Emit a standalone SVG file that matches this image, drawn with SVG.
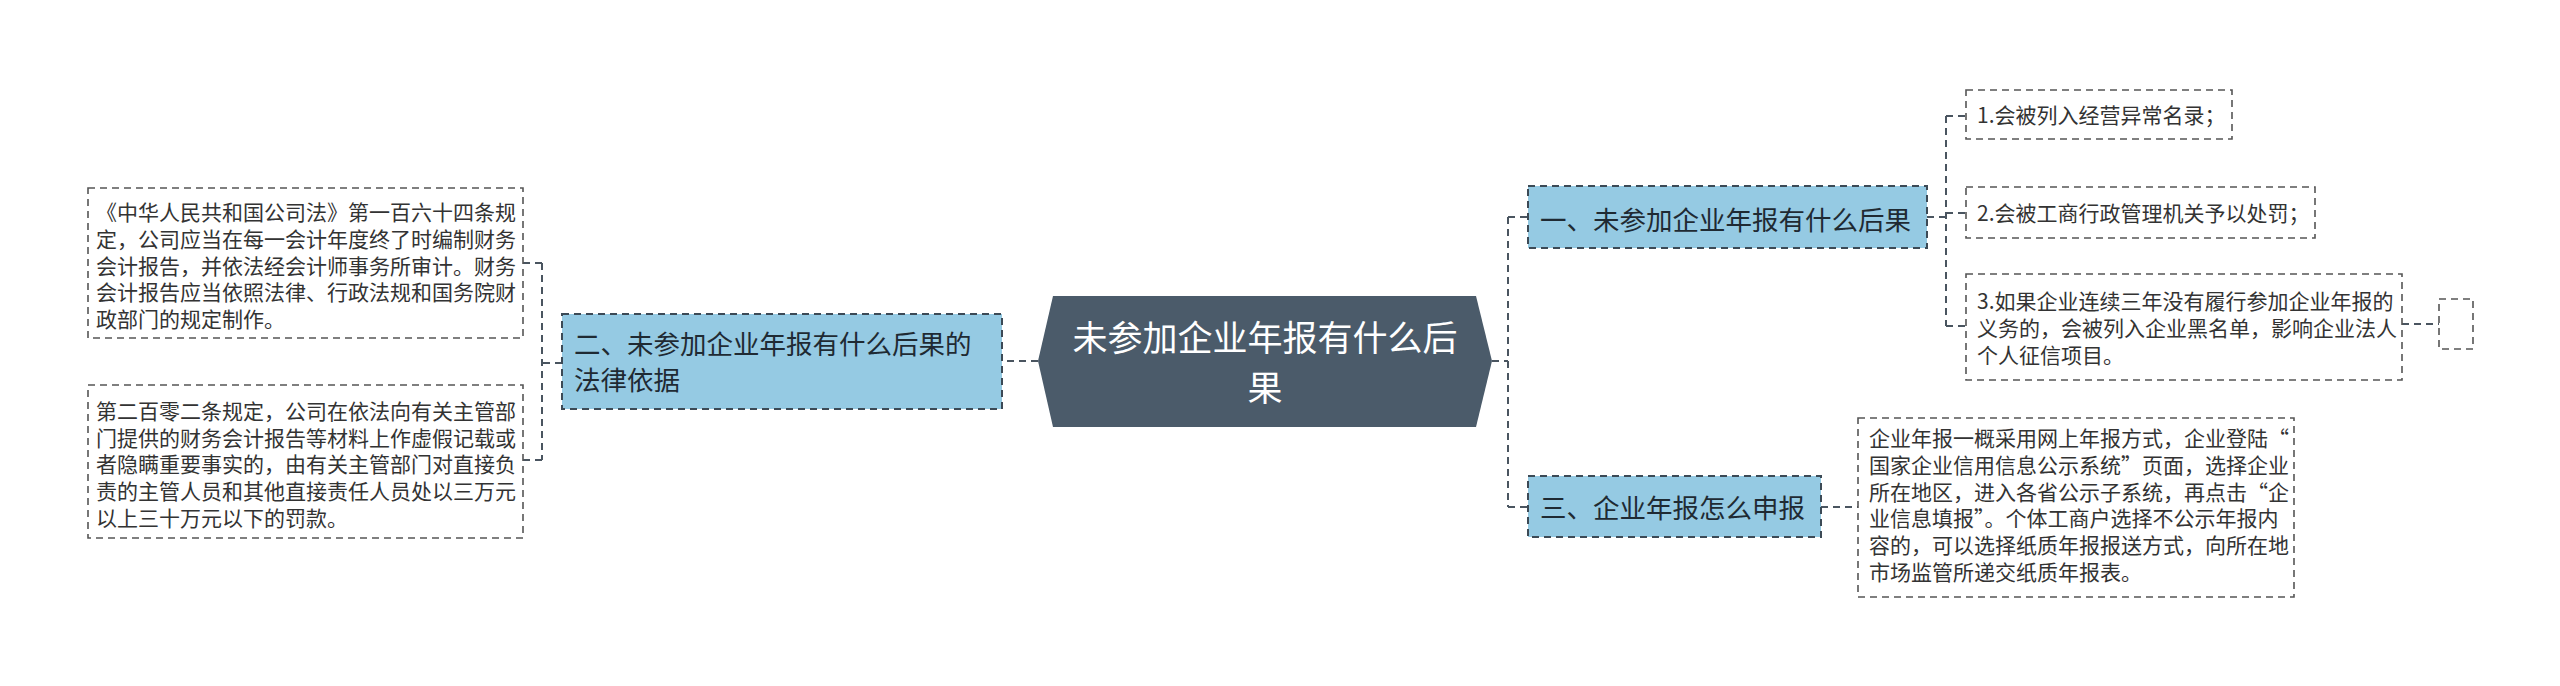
<svg xmlns="http://www.w3.org/2000/svg" width="2560" height="686" viewBox="0 0 2560 686">
<style>
text{font-family:"Microsoft YaHei","Noto Sans CJK SC","Noto Sans",sans-serif;}
.conn{fill:none;stroke:#4a5560;stroke-width:2;stroke-dasharray:7 5;}
.topic{fill:#95cae3;stroke:#3c4a56;stroke-width:2;stroke-dasharray:7 5;}
.leaf{fill:#ffffff;stroke:#555555;stroke-width:1.6;stroke-dasharray:7 5;}
.t1{font-size:26.5px;fill:#1f2a33;}
.t2{font-size:21px;fill:#333333;}
.tc{font-size:35px;fill:#ffffff;text-anchor:middle;}
</style>
<rect width="2560" height="686" fill="#ffffff"/>
<g id="connectors">
<path class="conn" d="M1038,361 H1002"/>
<path class="conn" d="M562,363 H542 M542,263 V460 M542,263 H523 M542,460 H523"/>
<path class="conn" d="M1492,361 H1508 M1508,217 V507 M1508,217 H1528 M1508,507 H1528"/>
<path class="conn" d="M1927,217 H1946 M1946,116 V326 M1946,116 H1966 M1946,213 H1966 M1946,326 H1966"/>
<path class="conn" d="M1821,507 H1858"/>
<path class="conn" d="M2402,324 H2439"/>
</g>
<g id="center">
<polygon points="1038,361 1053,296 1476,296 1492,361 1476,427 1053,427" fill="#4b5b6a"/>
<text class="tc" x="1265" y="351">未参加企业年报有什么后</text>
<text class="tc" x="1265" y="401">果</text>
</g>
<g id="node-legal">
<rect class="topic" x="562" y="314" width="440" height="95"/>
<text class="t1" x="574" y="354">二、未参加企业年报有什么后果的</text>
<text class="t1" x="574" y="390">法律依据</text>
</g>
<g id="leaf-legal-1">
<rect class="leaf" x="88" y="188" width="435" height="150"/>
<text class="t2" x="96"><tspan x="96" y="220">《中华人民共和国公司法》第一百六十四条规</tspan><tspan x="96" y="247">定，公司应当在每一会计年度终了时编制财务</tspan><tspan x="96" y="274">会计报告，并依法经会计师事务所审计。财务</tspan><tspan x="96" y="300">会计报告应当依照法律、行政法规和国务院财</tspan><tspan x="96" y="327">政部门的规定制作。</tspan></text>
</g>
<g id="leaf-legal-2">
<rect class="leaf" x="88" y="385" width="435" height="153"/>
<text class="t2"><tspan x="96" y="419">第二百零二条规定，公司在依法向有关主管部</tspan><tspan x="96" y="446">门提供的财务会计报告等材料上作虚假记载或</tspan><tspan x="96" y="472">者隐瞒重要事实的，由有关主管部门对直接负</tspan><tspan x="96" y="499">责的主管人员和其他直接责任人员处以三万元</tspan><tspan x="96" y="526">以上三十万元以下的罚款。</tspan></text>
</g>
<g id="node-consequence">
<rect class="topic" x="1528" y="186" width="399" height="62"/>
<text class="t1" x="1540" y="230">一、未参加企业年报有什么后果</text>
</g>
<g id="leaf-c1">
<rect class="leaf" x="1966" y="90" width="266" height="49"/>
<text class="t2" x="1977" y="123">1.会被列入经营异常名录；</text>
</g>
<g id="leaf-c2">
<rect class="leaf" x="1966" y="187" width="349" height="51"/>
<text class="t2" x="1977" y="221">2.会被工商行政管理机关予以处罚；</text>
</g>
<g id="leaf-c3">
<rect class="leaf" x="1966" y="274" width="436" height="106"/>
<text class="t2"><tspan x="1977" y="309">3.如果企业连续三年没有履行参加企业年报的</tspan><tspan x="1977" y="336">义务的，会被列入企业黑名单，影响企业法人</tspan><tspan x="1977" y="363">个人征信项目。</tspan></text>
</g>
<g id="leaf-empty">
<rect class="leaf" x="2439" y="299" width="34" height="50"/>
</g>
<g id="node-howto">
<rect class="topic" x="1528" y="476" width="293" height="61"/>
<text class="t1" x="1540" y="518">三、企业年报怎么申报</text>
</g>
<g id="leaf-howto">
<rect class="leaf" x="1858" y="418" width="436" height="179"/>
<text class="t2"><tspan x="1869" y="446">企业年报一概采用网上年报方式，企业登陆“</tspan><tspan x="1869" y="473">国家企业信用信息公示系统”页面，选择企业</tspan><tspan x="1869" y="500">所在地区，进入各省公示子系统，再点击“企</tspan><tspan x="1869" y="526">业信息填报”。个体工商户选择不公示年报内</tspan><tspan x="1869" y="553">容的，可以选择纸质年报报送方式，向所在地</tspan><tspan x="1869" y="580">市场监管所递交纸质年报表。</tspan></text>
</g>
</svg>
